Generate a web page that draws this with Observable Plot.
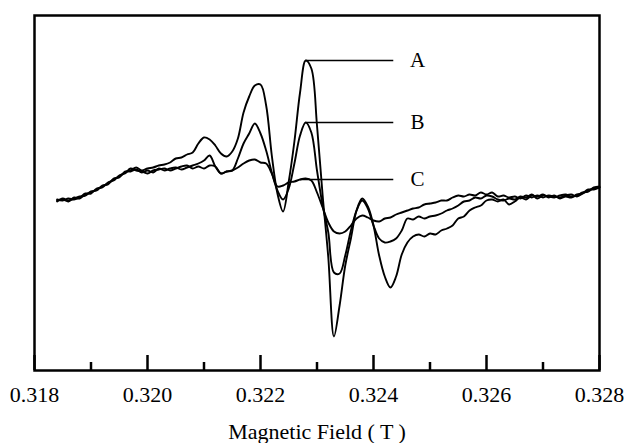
<!DOCTYPE html>
<html><head><meta charset="utf-8">
<script src="https://cdn.jsdelivr.net/npm/d3@7"></script>
<script src="https://cdn.jsdelivr.net/npm/@observablehq/plot@0.6"></script>
<style>body{margin:0;background:#fff} svg text{font-family:"Liberation Serif","Times New Roman",serif !important;}</style>
</head><body><div id="chart"></div>
<script>
// Magnetic field (T)
const field = [
0.3184,0.3185,0.3186,0.3187,0.3188,0.3189,0.3190,0.3191,0.3192,0.3193,
0.3194,0.3195,0.3196,0.3197,0.3198,0.3199,0.3200,0.3201,0.3202,0.3203,
0.3204,0.3205,0.3206,0.3207,0.3208,0.3209,0.3210,0.3211,0.3212,0.3213,
0.3214,0.3215,0.3216,0.3217,0.3218,0.3219,0.3220,0.3221,0.3222,0.3223,
0.3224,0.3225,0.3226,0.3227,0.3228,0.3229,0.3230,0.3231,0.3232,0.3233,
0.3234,0.3235,0.3236,0.3237,0.3238,0.3239,0.3240,0.3241,0.3242,0.3243,
0.3244,0.3245,0.3246,0.3247,0.3248,0.3249,0.3250,0.3251,0.3252,0.3253,
0.3254,0.3255,0.3256,0.3257,0.3258,0.3259,0.3260,0.3261,0.3262,0.3263,
0.3264,0.3265,0.3266,0.3267,0.3268,0.3269,0.3270,0.3271,0.3272,0.3273,
0.3274,0.3275,0.3276,0.3277,0.3278,0.3279,0.3280];
// EPR signal (arbitrary units)
const signalA = [
0,1,-1,3,2,6,8,11,14,17,21,24,28,30,33,30,32,33,35,36,
38,42,43,46,48,57,63,61,55,47,44,49,62,88,104,115,116,95,45,7,
-11,19,59,108,140,132,75,5,-57,-136,-105,-65,-38,-10,2,-6,-25,-55,-76,-87,
-76,-54,-42,-36,-34,-36,-33,-34,-30,-28,-25,-18,-16,-10,-7,-5,0,1,-1,1,
-4,-1,3,1,5,4,6,3,5,2,4,3,6,7,10,12,13];
const signalB = [
-1,2,0,2,4,5,9,10,15,16,22,23,29,29,31,28,30,28,32,30,
32,33,31,33,35,37,40,45,34,27,29,30,42,57,67,77,67,50,28,10,
1,12,37,65,78,68,30,-5,-32,-72,-73,-55,-30,-10,0,-8,-25,-38,-42,-41,
-38,-30,-18,-19,-16,-18,-16,-15,-13,-10,-8,-5,-1,0,3,2,5,4,1,0,
2,1,4,3,6,2,5,4,3,5,6,4,5,8,9,13,14];
const signalC = [
1,0,2,1,3,7,7,12,13,18,20,25,27,32,30,29,27,30,31,32,
30,32,34,35,32,34,32,35,34,27,29,30,33,37,40,41,38,37,27,14,
15,18,19,21,22,20,8,-7,-22,-31,-33,-31,-25,-18,-15,-17,-20,-21,-18,-17,
-14,-12,-10,-8,-7,-4,-3,-2,0,0,3,5,4,6,5,8,6,8,4,5,
3,4,2,5,3,5,3,5,4,3,5,6,4,7,11,11,13];

const seriesNames = ["A", "B", "C"];
const labelField = [0.3228, 0.3228, 0.3227];   // where each leader line starts
const leaderEnd = 0.32435;
const labelPos = 0.32478;
const majorTicks = [0.318, 0.320, 0.322, 0.324, 0.326, 0.328];
const minorTicks = [0.319, 0.321, 0.323, 0.325, 0.327];
const tickLabels = ["0.318", "0.320", "0.322", "0.324", "0.326", "0.328"];
const xTitle = "Magnetic Field ( T )";

const series = {A: signalA, B: signalB, C: signalC};
const rows = seriesNames.flatMap(s => field.map((f, i) => ({s, f, v: series[s][i]})));
const notes = seriesNames.map((s, k) => {
  const i = field.findIndex(f => Math.abs(f - labelField[k]) < 1e-7);
  return {s, x1: field[i], x2: leaderEnd, xt: labelPos, y: series[s][i]};
});

const W = 624, H = 443, mT = 15, mB = 73, mL = 34, mR = 25;
const plotH = H - mT - mB;
const serif = "Liberation Serif";

const chart = Plot.plot({
  width: W, height: H,
  marginTop: mT, marginBottom: mB, marginLeft: mL, marginRight: mR,
  style: {fontFamily: serif, fontSize: "22px", color: "#000", background: "#fff"},
  x: {domain: [0.318, 0.328], label: null},
  y: {domain: [-170, 185], axis: null},
  marks: [
    Plot.line(rows, {x: "f", y: "v", z: "s", stroke: "#000", strokeWidth: 1.9, curve: "catmull-rom"}),
    Plot.link(notes, {x1: "x1", y1: "y", x2: "x2", y2: "y", stroke: "#000", strokeWidth: 1.5}),
    Plot.text(notes, {x: "xt", y: "y", text: "s", fontSize: 21, fontFamily: serif, textAnchor: "middle"}),
    Plot.tickX(majorTicks, {x: d => d, insetTop: plotH - 15, stroke: "#000", strokeWidth: 2.5}),
    Plot.tickX(minorTicks, {x: d => d, insetTop: plotH - 8, stroke: "#000", strokeWidth: 2.5}),
    Plot.axisX(majorTicks, {tickSize: 0, tickPadding: 16, label: null, fontSize: 22, fontFamily: serif,
      tickFormat: d => tickLabels[majorTicks.indexOf(d)]}),
    Plot.frame({stroke: "#000", strokeWidth: 2.5}),
    Plot.text([xTitle], {frameAnchor: "bottom", dy: 61, text: d => d, fontSize: 22, fontFamily: serif, lineAnchor: "middle"})
  ]
});
document.getElementById("chart").appendChild(chart);
</script>
</body></html>
